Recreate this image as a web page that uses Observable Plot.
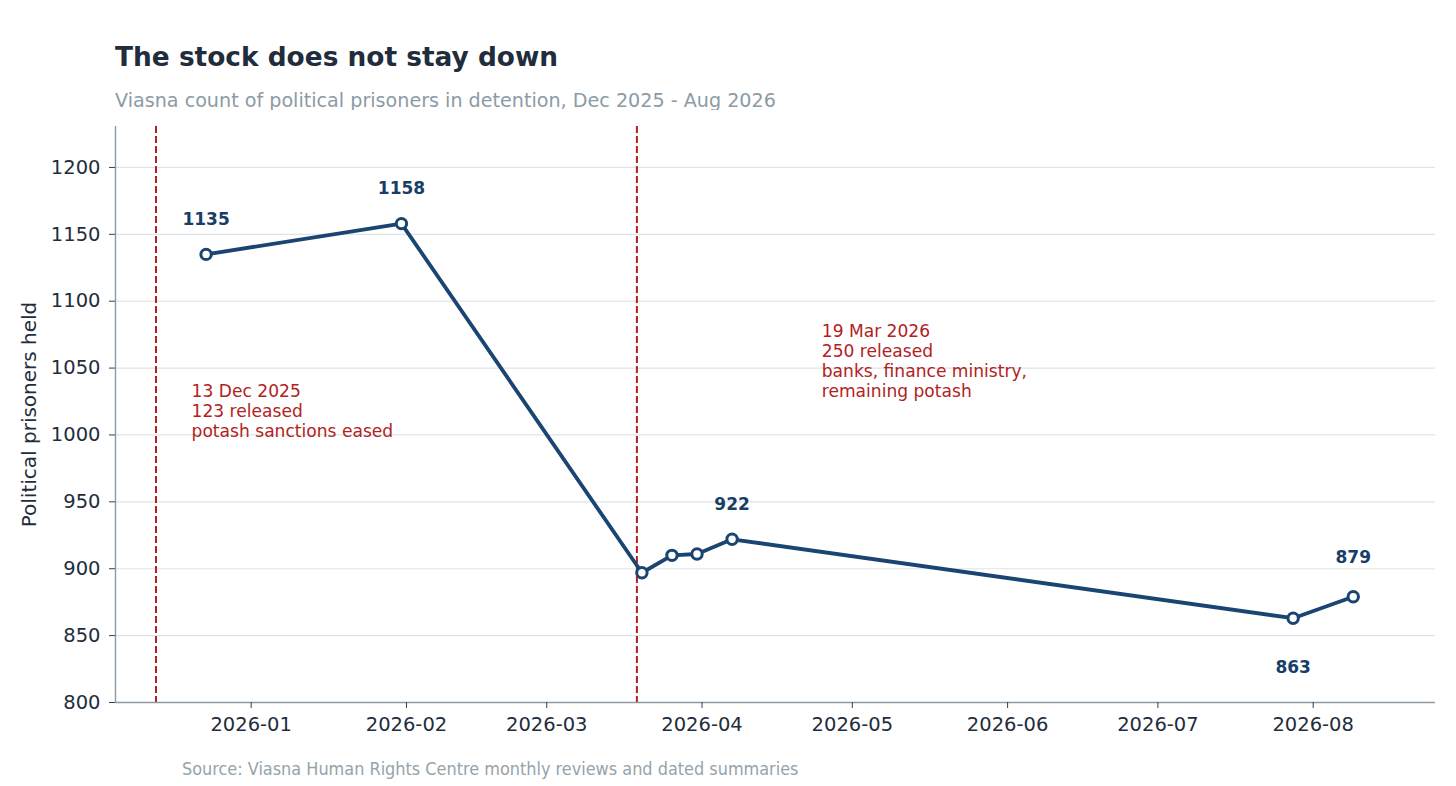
<!DOCTYPE html>
<html>
<head>
<meta charset="utf-8">
<script src="https://cdn.jsdelivr.net/npm/d3@7"></script>
<script src="https://cdn.jsdelivr.net/npm/@observablehq/plot@0.6"></script>
<style>
  html, body { margin: 0; padding: 0; background: #ffffff; }
  body { width: 1456px; height: 786px; position: relative; overflow: hidden; font-family: "DejaVu Sans", sans-serif; }
  #title { position: absolute; left: 115px; top: 44px; font-size: 26.4px; line-height: 26px; font-weight: bold; color: #1f2d3d; white-space: nowrap; }
  #subtitle { position: absolute; left: 115px; top: 91px; font-size: 19.15px; line-height: 19px; color: #8c9ba5; white-space: nowrap; }
  #chart { position: absolute; left: 0; top: 110px; }
  #source { position: absolute; left: 182px; top: 760px; font-family: "DejaVu Sans Condensed", "DejaVu Sans", sans-serif; font-stretch: condensed; font-size: 17.9px; line-height: 18px; color: #95a3ab; white-space: nowrap; }
</style>
</head>
<body>
<div id="title">The stock does not stay down</div>
<div id="subtitle">Viasna count of political prisoners in detention, Dec 2025 - Aug 2026</div>
<div id="chart"></div>
<div id="source">Source: Viasna Human Rights Centre monthly reviews and dated summaries</div>
<script>
// ---- data ----
const obsDates = ["2025-12-23", "2026-01-31", "2026-03-20", "2026-03-26", "2026-03-31", "2026-04-07", "2026-07-28", "2026-08-09"];
const obsValues = [1135, 1158, 897, 910, 911, 922, 863, 879];
const labelAbove = ["2025-12-23", "2026-01-31", "2026-04-07"];
const labelAboveFar = ["2026-08-09"];
const labelBelow = ["2026-07-28"];
const eventDates = ["2025-12-13", "2026-03-19"];
const eventTexts = [
  "13 Dec 2025\n123 released\npotash sanctions eased",
  "19 Mar 2026\n250 released\nbanks, finance ministry,\nremaining potash"
];
const yTicks = [800, 850, 900, 950, 1000, 1050, 1100, 1150, 1200];
const xTicks = ["2026-01-01", "2026-02-01", "2026-03-01", "2026-04-01", "2026-05-01", "2026-06-01", "2026-07-01", "2026-08-01"];
const yLabel = "Political prisoners held";

// ---- build ----
const parse = s => new Date(s + "T00:00:00Z");
const table = obsDates.map((d, i) => ({date: parse(d), value: obsValues[i]}));
const byDate = new Map(table.map(d => [+d.date, d]));
const pick = list => list.map(s => byDate.get(+parse(s)));
const events = eventDates.map((d, i) => ({date: parse(d), text: eventTexts[i]}));
const DAY = 864e5;
const shift = (d, days) => new Date(+d + days * DAY);

const xDomain = [new Date("2025-12-04T22:00:00Z"), new Date("2026-08-25T10:00:00Z")];
const yDomain = [800, 1230.6];

const navy = "#1a4471";
const red = "#b22222";
const spine = "#8c9ba5";
const ink = "#1f2d3d";
const labelInk = "#173e66";

const valueText = (data, dy) => Plot.text(data, {x: "date", y: "value", text: d => String(d.value), dy, fontSize: 17, fontWeight: "bold", fill: labelInk});

const chart = Plot.plot({
  width: 1456,
  height: 640,
  marginTop: 16,
  marginBottom: 48,
  marginLeft: 115,
  marginRight: 21,
  style: {fontFamily: "DejaVu Sans", fontSize: "19.5px", color: ink, background: "#ffffff"},
  x: {type: "utc", domain: xDomain},
  y: {domain: yDomain},
  marks: [
    Plot.gridY(yTicks.filter(v => v > 800), {stroke: "#dfe4e8", strokeOpacity: 1, strokeWidth: 1.2}),
    Plot.ruleX(events, {x: "date", stroke: red, strokeWidth: 2, strokeDasharray: "7,3"}),
    Plot.ruleX([xDomain[0]], {stroke: spine, strokeWidth: 1.4}),
    Plot.ruleY([800], {stroke: spine, strokeWidth: 1.4}),
    Plot.lineY(table, {x: "date", y: "value", stroke: navy, strokeWidth: 3.8, strokeLinejoin: "round"}),
    Plot.dot(table, {x: "date", y: "value", r: 5.2, fill: "#ffffff", stroke: navy, strokeWidth: 3}),
    valueText(pick(labelAbove), -35),
    valueText(pick(labelAboveFar), -39),
    valueText(pick(labelBelow), 49),
    Plot.text([events[0]], {x: d => shift(d.date, 7.1), y: () => 1039.3, text: "text", textAnchor: "start", lineAnchor: "top", lineHeight: 1.176, fontSize: 17.1, fill: red}),
    Plot.text([events[1]], {x: d => shift(d.date, 36.9), y: () => 1084.2, text: "text", textAnchor: "start", lineAnchor: "top", lineHeight: 1.176, fontSize: 17.1, fill: red}),
    Plot.axisX({ticks: xTicks.map(parse), tickFormat: d3.utcFormat("%Y-%m"), tickSize: 6, tickPadding: 9, stroke: "#34404a", fill: ink, label: null}),
    Plot.axisY({ticks: yTicks, tickFormat: d => String(d), tickSize: 6, tickPadding: 9, stroke: "#34404a", fill: ink, label: null}),
    Plot.text([yLabel], {text: d => d, frameAnchor: "left", rotate: -90, textAnchor: "middle", lineAnchor: "bottom", dx: -79.5, fontSize: 20, fill: ink})
  ]
});
document.getElementById("chart").appendChild(chart);
</script>
</body>
</html>
